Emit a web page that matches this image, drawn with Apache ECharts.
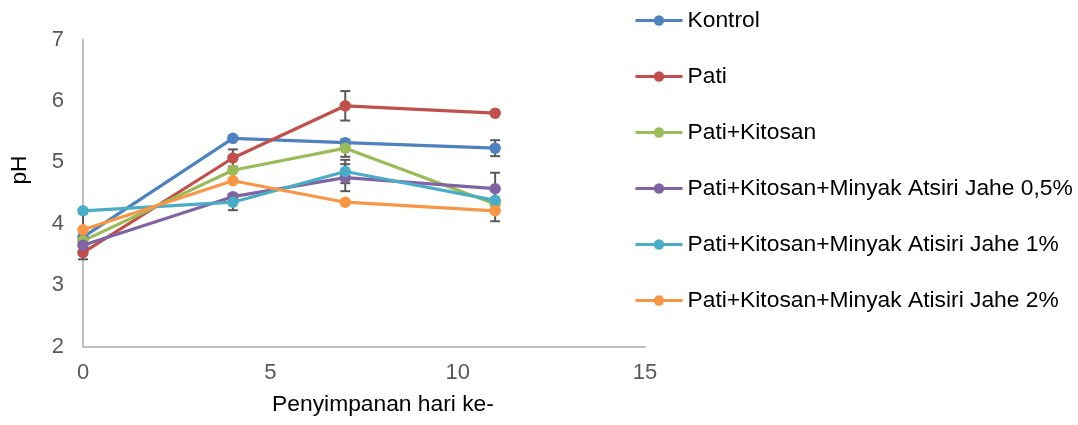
<!DOCTYPE html>
<html>
<head>
<meta charset="utf-8">
<script src="https://cdn.jsdelivr.net/npm/echarts@6/dist/echarts.min.js"></script>
<style>
  html, body { margin: 0; padding: 0; background: #fff; }
  #chart { width: 1078px; height: 425px; }
</style>
</head>
<body>
<div id="chart"></div>
<script>
// Storage day of each measurement
const days = [0, 4, 7, 11];

// Treatment names
const seriesNames = [
  'Kontrol',
  'Pati',
  'Pati+Kitosan',
  'Pati+Kitosan+Minyak Atsiri Jahe 0,5%',
  'Pati+Kitosan+Minyak Atisiri Jahe 1%',
  'Pati+Kitosan+Minyak Atisiri Jahe 2%'
];

// Mean pH per treatment
const phKontrol = [3.78, 5.39, 5.32, 5.23];
const phPati = [3.53, 5.07, 5.92, 5.80];
const phPatiKitosan = [3.72, 4.87, 5.23, 4.32];
const phJahe05 = [3.65, 4.44, 4.75, 4.57];
const phJahe1 = [4.21, 4.35, 4.85, 4.38];
const phJahe2 = [3.90, 4.70, 4.35, 4.21];

// Standard deviation per treatment
const sdKontrol = [0, 0, 0, 0.13];
const sdPati = [0.11, 0.14, 0.24, 0];
const sdPatiKitosan = [0, 0, 0.14, 0];
const sdJahe05 = [0, 0, 0.22, 0.26];
const sdJahe1 = [0, 0.13, 0.19, 0];
const sdJahe2 = [0.27, 0, 0, 0.17];

// Axis ticks
const xTicks = [0, 5, 10, 15];
const yTicks = [2, 3, 4, 5, 6, 7];

const means = [phKontrol, phPati, phPatiKitosan, phJahe05, phJahe1, phJahe2];
const sds = [sdKontrol, sdPati, sdPatiKitosan, sdJahe05, sdJahe1, sdJahe2];
const colors = ['#4F81BD', '#C0504D', '#9BBB59', '#8064A2', '#4BACC6', '#F79646'];

const FONT = '"Liberation Sans", Arial, sans-serif';

const lineSeries = seriesNames.map((name, i) => ({
  name,
  type: 'line',
  data: days.map((d, j) => [d, means[i][j]]),
  symbol: 'circle',
  symbolSize: 11.5,
  color: colors[i],
  lineStyle: { width: 3.2, color: colors[i] },
  itemStyle: { color: colors[i] },
  z: 3,
  animation: false
}));

// Error bars: vertical whisker with caps
const errorData = [];
means.forEach((m, i) => {
  days.forEach((d, j) => {
    if (sds[i][j] > 0) errorData.push([d, m[j] - sds[i][j], m[j] + sds[i][j]]);
  });
});

const errorSeries = {
  type: 'custom',
  name: 'errorbars',
  data: errorData,
  z: 2,
  silent: true,
  animation: false,
  renderItem(params, api) {
    const x = api.value(0);
    const lo = api.coord([x, api.value(1)]);
    const hi = api.coord([x, api.value(2)]);
    const half = 5;
    const style = { stroke: '#595959', lineWidth: 2 };
    return {
      type: 'group',
      children: [
        { type: 'line', shape: { x1: lo[0], y1: lo[1], x2: hi[0], y2: hi[1] }, style },
        { type: 'line', shape: { x1: lo[0] - half, y1: lo[1], x2: lo[0] + half, y2: lo[1] }, style },
        { type: 'line', shape: { x1: hi[0] - half, y1: hi[1], x2: hi[0] + half, y2: hi[1] }, style }
      ]
    };
  }
};

const chart = echarts.init(document.getElementById('chart'));
chart.setOption({
  backgroundColor: '#fff',
  animation: false,
  textStyle: { fontFamily: FONT },
  grid: { left: 83, right: 433, top: 39.5, bottom: 78.5 },
  legend: {
    data: seriesNames,
    orient: 'vertical',
    left: 634,
    top: 9,
    padding: 0,
    itemWidth: 47,
    itemHeight: 13,
    itemGap: 33,
    lineStyle: { width: 3 },
    textStyle: { fontFamily: FONT, fontSize: 22.8, color: '#000', lineHeight: 22 }
  },
  xAxis: {
    type: 'value',
    min: xTicks[0],
    max: xTicks[xTicks.length - 1],
    interval: 5,
    name: 'Penyimpanan hari ke-',
    nameLocation: 'middle',
    nameGap: 47,
    nameTextStyle: { fontFamily: FONT, fontSize: 22.8, color: '#000', padding: [0, 0, 0, 38] },
    axisLine: { lineStyle: { color: '#BFBFBF', width: 2 } },
    axisTick: { show: false },
    splitLine: { show: false },
    axisLabel: { fontFamily: FONT, fontSize: 22, color: '#595959', margin: 15 }
  },
  yAxis: {
    type: 'value',
    min: yTicks[0],
    max: yTicks[yTicks.length - 1],
    interval: 1,
    name: 'pH',
    nameLocation: 'middle',
    nameGap: 52,
    nameTextStyle: { fontFamily: FONT, fontSize: 22.8, color: '#000', padding: [0, 0, 0, 46] },
    axisLine: { show: true, lineStyle: { color: '#BFBFBF', width: 2 } },
    axisTick: { show: false },
    splitLine: { show: false },
    axisLabel: { fontFamily: FONT, fontSize: 22, color: '#595959', margin: 19 }
  },
  series: [errorSeries, ...lineSeries]
});
</script>
</body>
</html>
